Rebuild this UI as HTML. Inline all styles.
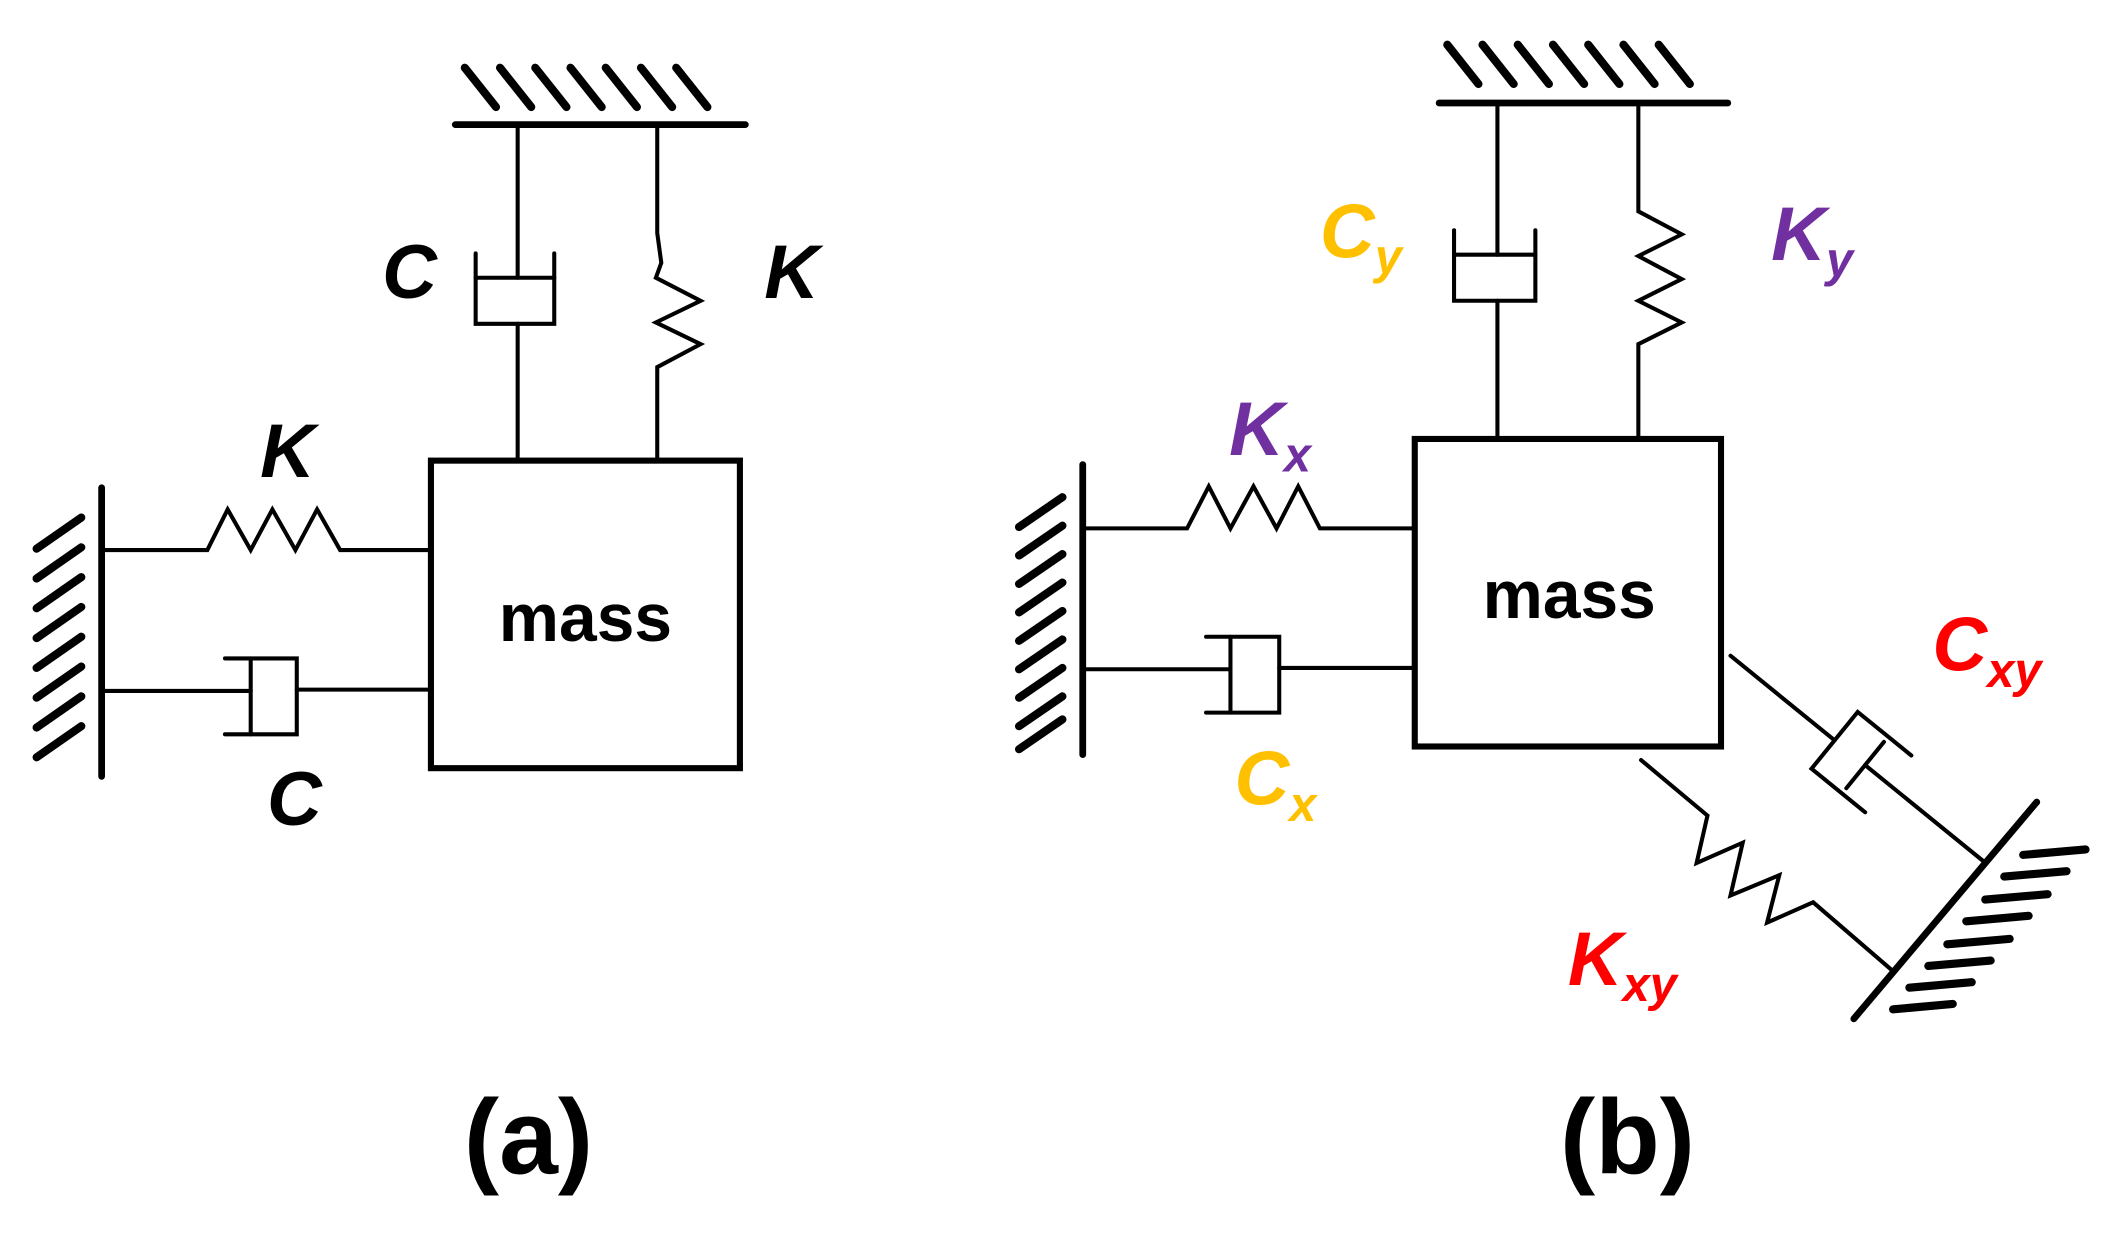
<!DOCTYPE html>
<html><head><style>html,body{margin:0;padding:0;background:#fff}svg{display:block}</style></head>
<body>
<svg width="2114" height="1241" viewBox="0 0 1560 916" preserveAspectRatio="none" xmlns="http://www.w3.org/2000/svg" font-family="Liberation Sans, sans-serif">
<g stroke="#000" fill="none" stroke-width="3" stroke-linecap="round">
<!-- (a) top ground -->
<line x1="336" y1="92" x2="550" y2="92" stroke-width="5"/>
<g stroke-width="6">
<line x1="343" y1="50" x2="366" y2="79"/><line x1="369" y1="50" x2="392" y2="79"/><line x1="395" y1="50" x2="418" y2="79"/><line x1="421" y1="50" x2="444" y2="79"/><line x1="447" y1="50" x2="470" y2="79"/><line x1="473" y1="50" x2="496" y2="79"/><line x1="499" y1="50" x2="522" y2="79"/>
</g>
<!-- (a) vertical damper -->
<line x1="382" y1="92" x2="382" y2="205"/>
<line x1="351" y1="205" x2="409" y2="205"/>
<polyline points="351,187 351,239 409,239 409,187"/>
<line x1="382" y1="239" x2="382" y2="340"/>
<!-- (a) vertical spring -->
<polyline points="485,92 485,172 488,194 484,205 517,222 484,238 517,254 485,271 485,340" stroke-linejoin="miter"/>
<!-- (a) mass -->
<rect x="318" y="340" width="228" height="227" stroke-width="4.5"/>
<!-- (a) left wall -->
<line x1="75" y1="360" x2="75" y2="573" stroke-width="5"/>
<g stroke-width="6">
<line x1="27" y1="405" x2="60" y2="382"/><line x1="27" y1="427" x2="60" y2="404"/><line x1="27" y1="449" x2="60" y2="426"/><line x1="27" y1="471" x2="60" y2="448"/><line x1="27" y1="493" x2="60" y2="470"/><line x1="27" y1="515" x2="60" y2="492"/><line x1="27" y1="537" x2="60" y2="514"/><line x1="27" y1="559" x2="60" y2="536"/>
</g>
<polyline points="75,406 153,406 168,376 185,406 201,376 218,406 234,376 251,406 316,406" stroke-linejoin="miter"/>
<line x1="75" y1="510" x2="185" y2="510"/>
<line x1="185" y1="486" x2="185" y2="542"/>
<polyline points="166,486 219,486 219,542 166,542"/>
<line x1="219" y1="509" x2="316" y2="509"/>
<!-- (b) top ground -->
<line x1="1062" y1="76" x2="1275" y2="76" stroke-width="5"/>
<g stroke-width="6">
<line x1="1068" y1="33" x2="1091" y2="62"/><line x1="1094" y1="33" x2="1117" y2="62"/><line x1="1120" y1="33" x2="1143" y2="62"/><line x1="1146" y1="33" x2="1169" y2="62"/><line x1="1172" y1="33" x2="1195" y2="62"/><line x1="1198" y1="33" x2="1221" y2="62"/><line x1="1224" y1="33" x2="1247" y2="62"/>
</g>
<line x1="1105" y1="76" x2="1105" y2="188"/>
<line x1="1073" y1="188" x2="1133" y2="188"/>
<polyline points="1073,170 1073,222 1133,222 1133,170"/>
<line x1="1105" y1="222" x2="1105" y2="323"/>
<polyline points="1209,76 1209,156 1241,173 1209,189 1241,206 1209,222 1241,238 1209,254 1209,323" stroke-linejoin="miter"/>
<rect x="1044" y="324" width="226" height="227" stroke-width="4.5"/>
<!-- (b) left wall -->
<line x1="799" y1="343" x2="799" y2="557" stroke-width="5"/>
<g stroke-width="6">
<line x1="752" y1="389" x2="784" y2="367"/><line x1="752" y1="410" x2="784" y2="388"/><line x1="752" y1="431" x2="784" y2="409"/><line x1="752" y1="452" x2="784" y2="430"/><line x1="752" y1="473" x2="784" y2="451"/><line x1="752" y1="494" x2="784" y2="472"/><line x1="752" y1="515" x2="784" y2="493"/><line x1="752" y1="536" x2="784" y2="514"/><line x1="752" y1="553" x2="784" y2="531"/>
</g>
<polyline points="799,390 876,390 892,359 908,390 925,359 942,390 958,359 974,390 1042,390" stroke-linejoin="miter"/>
<line x1="799" y1="494" x2="908" y2="494"/>
<line x1="908" y1="470" x2="908" y2="526"/>
<polyline points="890,470 944,470 944,526 890,526"/>
<line x1="944" y1="493" x2="1042" y2="493"/>
<!-- diagonal damper -->
<g transform="translate(1277,484) rotate(39.1)">
<line x1="0" y1="0" x2="99" y2="0"/>
<polyline points="150,-27 99,-27 99,27 150,27"/>
<line x1="128" y1="-22" x2="128" y2="22"/>
<line x1="128" y1="0" x2="242" y2="0"/>
</g>
<!-- diagonal spring -->
<polyline points="1211,561 1260,602 1252,637 1286,622 1277,661 1313,646 1304,681 1338,666 1396,716" stroke-linejoin="miter"/>
<!-- angled wall -->
<line x1="1368" y1="752" x2="1503" y2="592" stroke-width="5"/>
<g stroke-width="6">
<line x1="1493" y1="631" x2="1539" y2="627"/><line x1="1479" y1="647" x2="1525" y2="643"/><line x1="1465" y1="664" x2="1511" y2="660"/><line x1="1451" y1="680" x2="1497" y2="676"/><line x1="1437" y1="697" x2="1483" y2="693"/><line x1="1423" y1="713" x2="1469" y2="709"/><line x1="1409" y1="729" x2="1455" y2="725"/><line x1="1397" y1="745" x2="1441" y2="741"/>
</g>
</g>
<g font-weight="bold" font-style="italic" font-size="56">
<text x="282" y="220">C</text>
<text x="564" y="220">K</text>
<text x="192" y="352">K</text>
<text x="197" y="609">C</text>
<text x="974" y="190" fill="#FFC000">C<tspan font-size="36" dy="12">y</tspan></text>
<text x="1307" y="192" fill="#7030A0">K<tspan font-size="36" dy="12">y</tspan></text>
<text x="907" y="336" fill="#7030A0">K<tspan font-size="36" dy="12">x</tspan></text>
<text x="911" y="594" fill="#FFC000">C<tspan font-size="36" dy="12">x</tspan></text>
<text x="1426" y="495" fill="#FF0000">C<tspan font-size="36" dy="12">xy</tspan></text>
<text x="1157" y="727" fill="#FF0000">K<tspan font-size="36" dy="12">xy</tspan></text>
</g>
<g font-weight="bold" text-anchor="middle">
<text x="432" y="473" font-size="50">mass</text>
<text x="1158" y="456" font-size="50">mass</text>
<text x="390" y="866" font-size="78">(a)</text>
<text x="1201" y="866" font-size="78">(b)</text>
</g>
</svg>
</body></html>
